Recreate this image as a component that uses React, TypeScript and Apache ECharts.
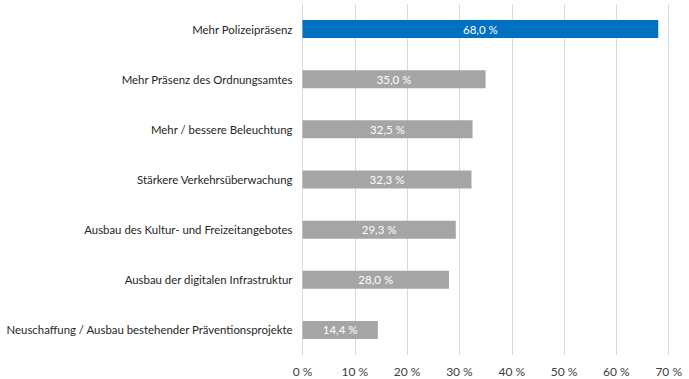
import React, { useEffect, useRef } from "react";
import * as echarts from "echarts";

const categories = [
  "Mehr Polizeipräsenz",
  "Mehr Präsenz des Ordnungsamtes",
  "Mehr / bessere Beleuchtung",
  "Stärkere Verkehrsüberwachung",
  "Ausbau des Kultur- und Freizeitangebotes",
  "Ausbau der digitalen Infrastruktur",
  "Neuschaffung / Ausbau bestehender Präventionsprojekte",
];
const values = [68.0, 35.0, 32.5, 32.3, 29.3, 28.0, 14.4];
const highlightIndex = 0;

const fmt = (v: number) => v.toFixed(1).replace(".", ",") + " %";

export default function App() {
  const ref = useRef<HTMLDivElement>(null);
  useEffect(() => {
    const chart = echarts.init(ref.current!, null, { renderer: "svg" });
    const font = "Lato, 'Open Sans', sans-serif";
    chart.setOption({
      animation: false,
      grid: {
        left: 302.5,
        right: 20.3,
        top: 4,
        bottom: 24,
        containLabel: false,
        outerBoundsMode: "none",
      },
      xAxis: {
        type: "value",
        min: 0,
        max: 70,
        interval: 10,
        axisLine: { show: false },
        axisTick: { show: false },
        splitLine: { lineStyle: { color: "#D9D9D9", width: 1 } },
        axisLabel: {
          formatter: (v: number) => v + " %",
          color: "#404040",
          fontSize: 12,
          fontFamily: font,
          margin: 10,
        },
      },
      yAxis: {
        type: "category",
        inverse: true,
        data: categories,
        axisLine: { show: false },
        axisTick: { show: false },
        axisLabel: {
          color: "#262626",
          fontSize: 11.4,
          fontFamily: font,
          margin: 10,
        },
      },
      series: [
        {
          type: "bar",
          data: values.map((v, i) => ({
            value: v,
            itemStyle: { color: i === highlightIndex ? "#0070C0" : "#A5A5A5" },
          })),
          barWidth: 18,
          label: {
            show: true,
            position: "inside",
            color: "#FFFFFF",
            fontSize: 11.5,
            fontFamily: font,
            formatter: (p: any) => fmt(p.value),
          },
        },
      ],
    });
    return () => chart.dispose();
  }, []);
  return <div ref={ref} style={{ width: 689, height: 379, position: "absolute", left: 0, top: 0, background: "#fff" }} />;
}
